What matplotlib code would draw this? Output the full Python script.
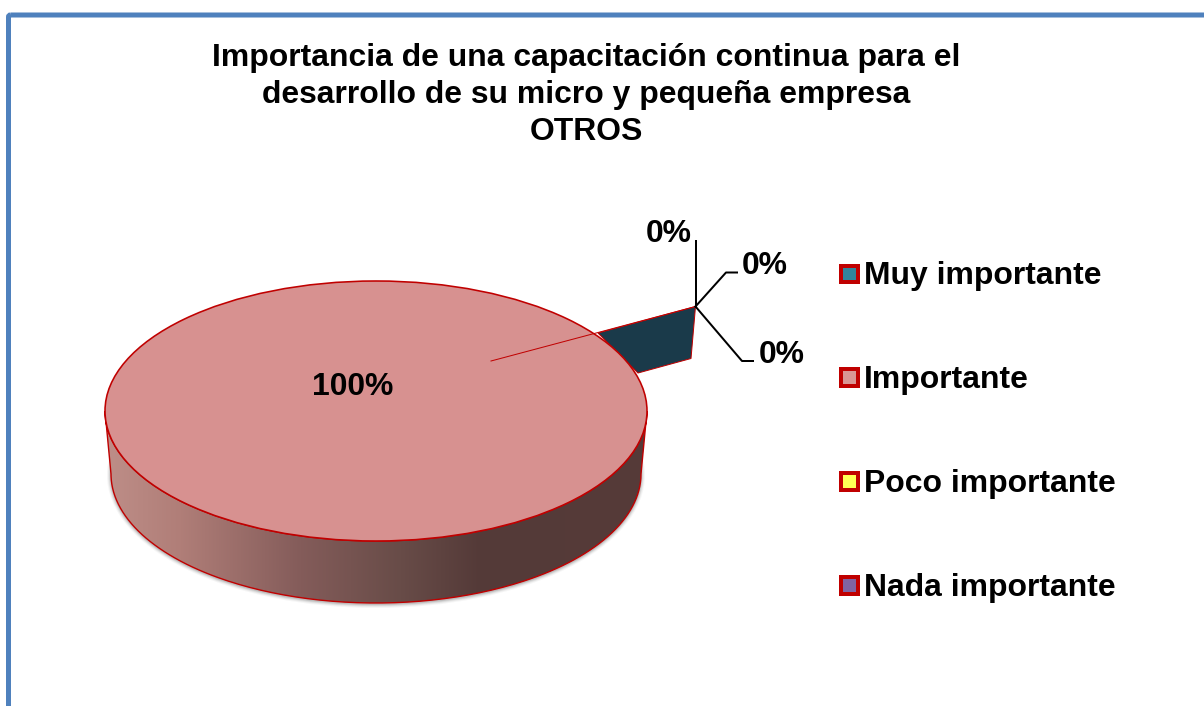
# ============================================================
# IMPORTANCIA DE UNA CAPACITACION CONTINUA - PIE 3D (OTROS)
# ============================================================

import numpy as np
import matplotlib
matplotlib.use("Agg")
import matplotlib.pyplot as plt
from matplotlib.patches import Ellipse, FancyBboxPatch, PathPatch, Polygon, Rectangle
from matplotlib.path import Path

# ============================================================
# DATA
# ============================================================

categories = ["Muy importante", "Importante", "Poco importante", "Nada importante"]
percentages = [0, 100, 0, 0]
legend_colors = ["#31859C", "#D99694", "#FFFF55", "#8064A2"]

title_lines = [
    "Importancia de una capacitación continua para el",
    "desarrollo de su micro y pequeña empresa",
    "OTROS",
]

# ============================================================
# STYLE / LAYOUT (pixels of the 1204x706 picture)
# ============================================================

DPI = 100
PX = 72 / DPI
RED = "#C00000"
FONT = "Liberation Sans"
TEXT_SIZE = 22.95

CX, CY, RX, RY = 376, 411, 271, 130
BX, BY, BRX, BRY = 376, 474, 265, 129

APEX = (695.5, 306.5)

plt.rcParams["font.family"] = FONT

fig = plt.figure(figsize=(12.04, 7.06), dpi=DPI)
ax = fig.add_axes([0, 0, 1, 1])
ax.set_xlim(0, 1204)
ax.set_ylim(706, 0)
ax.axis("off")

# ============================================================
# OUTER BORDER
# ============================================================

ax.add_patch(FancyBboxPatch((8.5, 15), 1300, 800,
                            boxstyle="round,pad=0,rounding_size=2",
                            fill=False, edgecolor="#4F81BD",
                            linewidth=5.0 * PX))

# ============================================================
# TITLE
# ============================================================

for i, line in enumerate(title_lines):
    ax.text(586, 58 + i * 36.8, line, ha="center", va="center",
            fontsize=TEXT_SIZE, fontweight="bold", color="black")

# ============================================================
# SHADOW UNDER THE PIE
# ============================================================

for grow, alpha in zip([4, 3, 2, 1], [0.05, 0.08, 0.12, 0.18]):
    ax.add_patch(Ellipse((BX, BY + 1), 2 * (BRX + grow), 2 * (BRY + grow),
                         facecolor="#505050", edgecolor="none", alpha=alpha))

# ============================================================
# PIE SIDE (GRADIENT CLIPPED TO THE WALL)
# ============================================================

t = np.linspace(np.pi, 0, 200)
top_x = CX + RX * np.cos(t)
top_y = CY + RY * np.sin(t)
bot_x = BX + BRX * np.cos(t[::-1])
bot_y = BY + BRY * np.sin(t[::-1])
wall = np.column_stack([
    np.concatenate([top_x, bot_x]),
    np.concatenate([top_y, bot_y]),
])
wall_patch = PathPatch(Path(np.vstack([wall, wall[:1]])),
                       facecolor="none", edgecolor=RED, linewidth=1.4 * PX)

xs = np.arange(100, 660)
stops_x = [105, 180, 300, 400, 480, 650]
grad = np.column_stack([
    np.interp(xs, stops_x, [190, 176, 132, 104, 84, 86]),
    np.interp(xs, stops_x, [142, 126, 92, 76, 58, 58]),
    np.interp(xs, stops_x, [136, 120, 90, 72, 56, 56]),
]) / 255
img = ax.imshow(grad[np.newaxis, :, :], extent=(100, 660, 620, 380),
                aspect="auto", zorder=2)
ax.set_xlim(0, 1204)
ax.set_ylim(706, 0)
ax.add_patch(wall_patch)
wall_patch.set_zorder(3)
img.set_clip_path(wall_patch)

# ============================================================
# ZERO SLICE ARTEFACT
# ============================================================

ax.add_patch(Polygon([APEX, (691, 358.5), (638, 373), (598, 333)],
                     closed=True, facecolor="#1A3A4A", edgecolor=RED,
                     linewidth=1.0 * PX, zorder=3))

# ============================================================
# PIE TOP
# ============================================================

ax.add_patch(Ellipse((CX, CY), 2 * RX, 2 * RY, facecolor="#D79190",
                     edgecolor=RED, linewidth=1.6 * PX, zorder=4))
ax.plot([491, 598, APEX[0]], [361, 332.5, APEX[1]], color=RED,
        linewidth=1.0 * PX, zorder=5)

# ============================================================
# DATA LABELS + LEADERS
# ============================================================

main_label = f"{percentages[1]}%"
ax.text(352.5, 387, main_label, ha="center", va="center", fontsize=TEXT_SIZE,
        fontweight="bold", color="black", zorder=6)

leaders = [
    [APEX, (695.5, 241)],
    [APEX, (726, 272.5), (737, 272.5)],
    [APEX, (742, 361), (753, 361)],
]
zero_values = [percentages[0], percentages[2], percentages[3]]
label_pos = [(668.5, 234), (765, 266), (781.5, 355)]

for path, value, pos in zip(leaders, zero_values, label_pos):
    px, py = zip(*path)
    ax.plot(px, py, color="black", linewidth=2.0 * PX, zorder=6)
    ax.text(pos[0], pos[1], f"{value}%", ha="center", va="center",
            fontsize=TEXT_SIZE, fontweight="bold", color="black", zorder=6)

# ============================================================
# LEGEND
# ============================================================

for i, (name, color) in enumerate(zip(categories, legend_colors)):
    y = 273.5 + i * 103.9
    ax.add_patch(Rectangle((841, y - 8), 16.5, 16.5, facecolor=color,
                           edgecolor=RED, linewidth=4.0 * PX, zorder=6))
    ax.text(864, y + 2.5, name, ha="left", va="center", fontsize=TEXT_SIZE,
            fontweight="bold", color="black", zorder=6)

fig.savefig("out.png", dpi=DPI)
